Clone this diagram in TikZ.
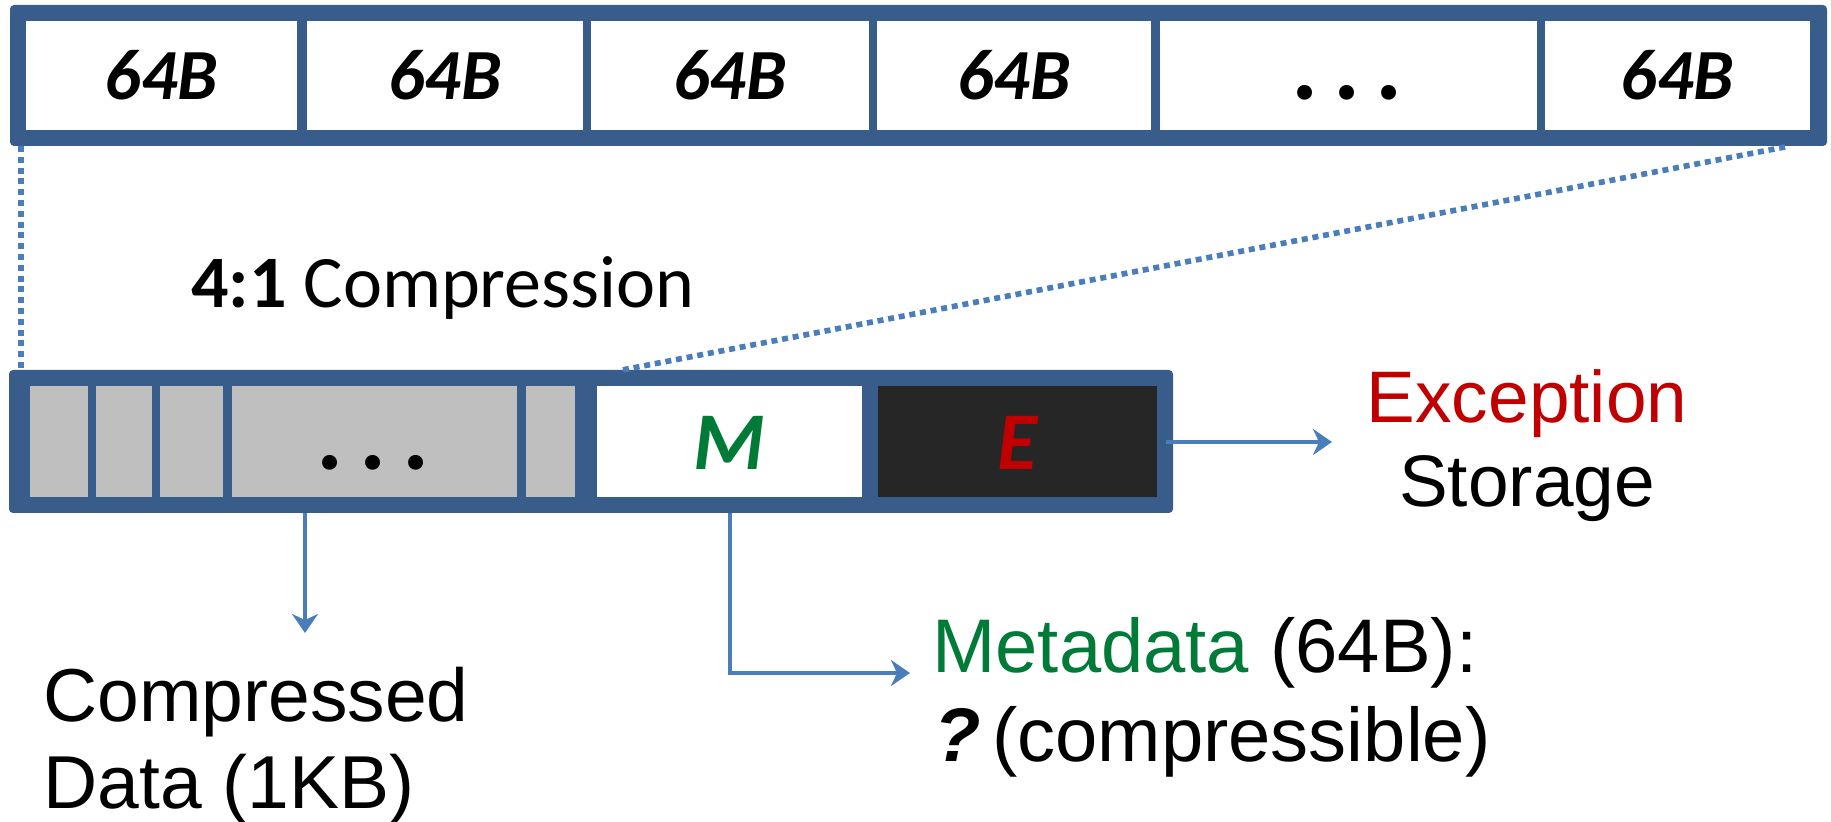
\documentclass[tikz,border=0pt]{standalone}
\usepackage{fontspec}
\setmainfont{Liberation Sans}
\newfontfamily\calfont{Carlito}
\usetikzlibrary{arrows.meta}
\definecolor{frameblue}{HTML}{385D8A}
\definecolor{arrowblue}{HTML}{4A7EBB}
\definecolor{cellgray}{HTML}{BFBFBF}
\definecolor{celldark}{HTML}{262626}
\definecolor{mgreen}{HTML}{007A37}
\definecolor{ered}{HTML}{C00000}
\tikzset{
  framebox/.style={fill=frameblue, rounded corners=2pt, inner sep=0pt, draw=none},
  cellbox/.style={inner sep=0pt, draw=none},
  toplabel/.style={font=\calfont\bfseries\itshape\fontsize{36pt}{40pt}\selectfont, text height=24pt, text depth=0pt},
  botlabel/.style={font=\calfont\bfseries\itshape\fontsize{41pt}{45pt}\selectfont, text height=28.5pt, text depth=0pt},
  arialtext/.style={font=\fontsize{36.5pt}{42pt}\selectfont, inner sep=0pt},
  cdtext/.style={font=\fontsize{37.5pt}{42pt}\selectfont, inner sep=0pt},
  mdtext/.style={font=\fontsize{38pt}{42pt}\selectfont, inner sep=0pt},
  dotline/.style={draw=arrowblue, line width=2.8pt, dash pattern=on 3pt off 2.4pt},
  arr/.style={draw=arrowblue, line width=2pt, -{Stealth[length=9.5pt,width=13pt,inset=3pt]}}
}
\newcommand\mycell[8]{%
  \node[cellbox, #8, fill=#6, minimum width={(#3-#2)*0.5pt}, minimum height={(#5-#4)*0.5pt}] (#1) at ({(#2+#3)/2},{(#4+#5)/2}) {#7};}
\newcommand\myframe[5]{%
  \node[framebox, minimum width={(#3-#2)*0.5pt}, minimum height={(#5-#4)*0.5pt}] (#1) at ({(#2+#3)/2},{(#4+#5)/2}) {};}
\newcommand\topdots{{\fontsize{50pt}{50pt}\selectfont .\hspace{7.6pt}.\hspace{7.6pt}.}}
\newcommand\botdots{{\fontsize{50pt}{50pt}\selectfont .\hspace{8.1pt}.\hspace{8.1pt}.}}
\begin{document}
\begin{tikzpicture}[x=0.5pt,y=-0.5pt]
\useasboundingbox (0,0) rectangle (1831,822);
% top bar
\myframe{topframe}{10}{1827}{5}{146}
\mycell{t1}{26}{297}{21}{130}{white}{64B}{toplabel}
\mycell{t2}{307}{583}{21}{130}{white}{64B}{toplabel}
\mycell{t3}{591}{869}{21}{130}{white}{64B}{toplabel}
\mycell{t4}{877}{1151}{21}{130}{white}{64B}{toplabel}
\mycell{t5}{1160}{1537}{21}{130}{white}{\topdots}{toplabel}
\mycell{t6}{1545}{1810}{21}{130}{white}{64B}{toplabel}
% bottom bar
\myframe{botframe}{9}{1173}{370}{513}
\mycell{b1}{30}{88}{386}{497}{cellgray}{}{botlabel}
\mycell{b2}{96}{152}{386}{497}{cellgray}{}{botlabel}
\mycell{b3}{160}{223}{386}{497}{cellgray}{}{botlabel}
\mycell{b4}{232}{517}{386}{497}{cellgray}{\botdots}{botlabel}
\mycell{b5}{526}{575}{386}{497}{cellgray}{}{botlabel}
\mycell{bm}{597}{862}{386}{497}{white}{\color{mgreen}M}{botlabel}
\mycell{be}{878}{1157}{386}{497}{celldark}{\color{ered}E}{botlabel}
% dotted zoom lines
\coordinate (dl1) at (21,146);
\coordinate (dl2) at (21,370);
\coordinate (dr1) at (1785,147);
\coordinate (dr2) at (622,370);
\draw[dotline] (dl1) -- (dl2);
\draw[dotline] (dr1) -- (dr2);
% texts
\node[anchor=base west, inner sep=0pt, font=\calfont\fontsize{37pt}{42pt}\selectfont] (ratio) at (191,308) {\textbf{4:1} Compression};
\node[arialtext, anchor=base, text=ered] (exc) at (1527,423) {Exception};
\node[arialtext, anchor=base] (sto) at (1527,507) {Storage};
\node[cdtext, anchor=base west] (cd1) at (43,722) {Compressed};
\node[cdtext, anchor=base west] (cd2) at (43,808) {Data (1KB)};
\node[mdtext, anchor=base west] (md1) at (932,673) {{\color{mgreen}Metadata} (64B):};
\node[mdtext, anchor=base west] (md2) at (934,762) {{\bfseries\itshape ?}\hspace{0.15em}(compressible)};
% arrows
\coordinate (cds) at (305,513);
\coordinate (cdt) at (305,633);
\draw[arr] (cds) -- (cdt);
\coordinate (ms) at (730,513);
\coordinate (mt) at (910,673);
\draw[arr] (ms) |- (mt);
\coordinate (es) at (1166,442);
\coordinate (et) at (1332,442);
\draw[arr] (es) -- (et);
\end{tikzpicture}
\end{document}
